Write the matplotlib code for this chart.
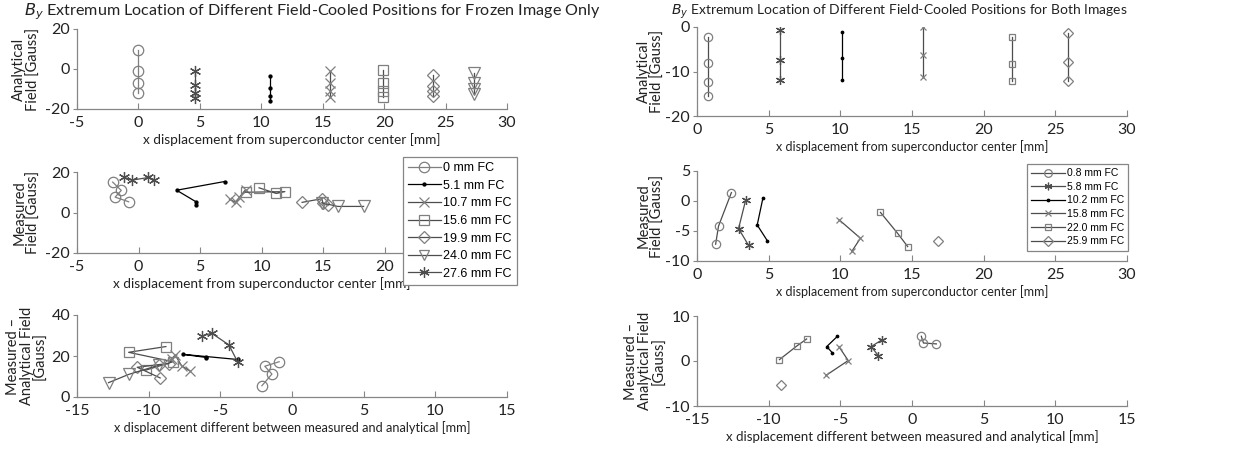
import matplotlib
matplotlib.use("Agg")
import matplotlib.pyplot as plt
from matplotlib.lines import Line2D

W, H = 1239, 453
FONT = ["Lato", "DejaVu Sans"]
LEGFONT = ["Liberation Sans", "DejaVu Sans"]

# ---------------- Left panel: Frozen image only ----------------
left_labels = ["0 mm FC", "5.1 mm FC", "10.7 mm FC", "15.6 mm FC",
               "19.9 mm FC", "24.0 mm FC", "27.6 mm FC"]
left_top_x = [0.0, 10.7, 15.6, 19.9, 24.0, 27.3, 4.6]
left_top_y = [
    [9.3, -0.8, -7.0, -12.0],
    [-3.3, -9.5, -13.3, -15.8],
    [-0.8, -7.0, -11.0, -14.0],
    [-0.3, -7.0, -11.0, -14.0],
    [-3.0, -8.5, -11.0, -13.5],
    [-2.0, -7.0, -10.0, -12.3],
    [-1.0, -7.8, -12.0, -14.5],
]
left_mid_x = [
    [-2.1, -1.4, -1.9, -0.8],
    [7.0, 3.1, 4.7, 4.7],
    [7.4, 7.9, 8.2, 8.7],
    [9.8, 11.2, 11.9, 8.7],
    [13.3, 14.9, 15.0, 15.4],
    [14.9, 16.2, 18.3],
    [-1.2, -0.5, 0.8, 1.3],
]
left_mid_y = [
    [15.0, 10.9, 7.6, 5.3],
    [15.3, 11.0, 5.2, 3.7],
    [6.5, 5.0, 7.5, 11.2],
    [12.2, 9.4, 10.3, 10.0],
    [5.0, 6.8, 4.5, 3.5],
    [4.8, 3.0, 3.0],
    [17.3, 16.0, 17.3, 16.2],
]
left_bot_x = [
    [-2.1, -1.4, -1.9, -0.9],
    [-3.8, -7.6, -6.0, -6.0],
    [-8.4, -8.15, -7.7, -7.1],
    [-8.8, -11.4, -8.3, -10.2],
    [-8.6, -9.3, -10.8, -9.2],
    [-12.8, -11.4, -9.3],
    [-6.3, -5.6, -4.4, -3.8],
]
left_bot_y = [
    [5.5, 11.2, 15.0, 17.2],
    [18.3, 20.8, 19.3, 19.0],
    [18.5, 20.5, 15.2, 12.6],
    [24.6, 21.8, 17.2, 13.1],
    [16.3, 15.8, 14.5, 9.3],
    [7.0, 11.0, 15.5],
    [29.8, 31.1, 25.4, 17.2],
]

# ---------------- Right panel: Both images ----------------
right_labels = ["0.8 mm FC", "5.8 mm FC", "10.2 mm FC", "15.8 mm FC",
                "22.0 mm FC", "25.9 mm FC"]
right_top_x = [0.8, 5.8, 10.1, 15.8, 22.0, 25.9]
right_top_y = [
    [-2.2, -8.0, -12.4, -15.6],
    [-0.7, -7.5, -12.0],
    [-1.1, -7.0, -11.8],
    [0.1, -6.2, -11.2],
    [-2.2, -8.4, -12.2],
    [-1.3, -7.8, -12.2],
]
right_mid_x = [
    [2.4, 1.5, 1.3],
    [3.4, 2.9, 3.6],
    [4.6, 4.2, 4.9],
    [9.9, 11.4, 10.8],
    [12.8, 14.0, 14.7],
    [16.8],
]
right_mid_y = [
    [1.4, -4.2, -7.2],
    [0.2, -4.6, -7.4],
    [0.5, -4.0, -6.6],
    [-3.1, -6.2, -8.4],
    [-1.9, -5.4, -7.6],
    [-6.6],
]
right_bot_x = [
    [0.65, 0.8, 1.7],
    [-2.1, -2.85, -2.35],
    [-5.2, -5.95, -5.55],
    [-5.1, -4.45, -6.0],
    [-9.25, -8.05, -7.35],
    [-9.15],
]
right_bot_y = [
    [5.5, 4.0, 3.8],
    [4.7, 3.2, 1.2],
    [5.5, 3.2, 1.8],
    [3.2, 0.1, -3.2],
    [0.3, 3.3, 4.9],
    [-5.3],
]

ASTER = (6, 2, 0)
GRAY = "#7f7f7f"
LINE = "#4d4d4d"

left_styles = [
    dict(marker="o", mec=GRAY, color=GRAY, ms=7.5),
    dict(marker="o", mec="black", mfc="black", color="black", ms=2.2),
    dict(marker="x", mec=GRAY, color=LINE, ms=6.5),
    dict(marker="s", mec=GRAY, color=LINE, ms=7),
    dict(marker="D", mec=GRAY, color=LINE, ms=6.5),
    dict(marker="v", mec=GRAY, color=LINE, ms=8),
    dict(marker=ASTER, mec=LINE, color=LINE, ms=8),
]
right_styles = [
    dict(marker="o", mec=GRAY, color=LINE, ms=6),
    dict(marker=ASTER, mec=LINE, color=LINE, ms=6.5),
    dict(marker="o", mec="black", mfc="black", color="black", ms=1.8),
    dict(marker="x", mec=GRAY, color=LINE, ms=5),
    dict(marker="s", mec=GRAY, color=LINE, ms=5),
    dict(marker="D", mec=GRAY, color=LINE, ms=5),
]

fig = plt.figure(figsize=(W / 100, H / 100), dpi=100)


def add_ax(x0, y0, x1, y1):
    return fig.add_axes([x0 / W, 1 - y1 / H, (x1 - x0) / W, (y1 - y0) / H])


def style_ax(ax, xlim, ylim, xticks, yticks, xlabel, ylabel, ylab_x,
             xl_size, hide_last_xtick=False):
    ax.set_xlim(*xlim)
    ax.set_ylim(*ylim)
    ax.set_xticks(xticks)
    ax.set_yticks(yticks)
    xt = [f"{t:g}" for t in xticks]
    if hide_last_xtick:
        xt[-1] = ""
    ax.set_xticklabels(xt)
    ax.set_yticklabels([f"{t:g}" for t in yticks])
    for s in ("top", "right"):
        ax.spines[s].set_visible(False)
    for s in ("left", "bottom"):
        ax.spines[s].set_color("#868686")
        ax.spines[s].set_linewidth(0.9)
    ax.tick_params(axis="x", direction="in", length=4, color="#868686",
                   labelsize=11.5, labelcolor="#222222", pad=5)
    ax.tick_params(axis="y", direction="out", length=3, color="#868686",
                   labelsize=11.5, labelcolor="#222222", pad=2)
    for lab in ax.get_xticklabels() + ax.get_yticklabels():
        lab.set_family(FONT)
    ax.set_xlabel(xlabel, family=FONT, fontsize=xl_size, labelpad=2,
                  color="#222222")
    ax.set_ylabel(ylabel, family=FONT, fontsize=10.5, color="#222222",
                  linespacing=1.0)
    ax.yaxis.set_label_coords(ylab_x, 0.5)
    ax.patch.set_alpha(0)


def plot_series(ax, xs, ys, st, scalar_x=False):
    for i, s in enumerate(st):
        x = xs[i]
        y = ys[i]
        if scalar_x:
            x = [x] * len(y)
        ax.plot(x, y, marker=s["marker"], ms=s["ms"], mec=s["mec"],
                mfc=s.get("mfc", "none"), color=s["color"], lw=0.9, mew=0.9)


XL1 = "x displacement from superconductor center [mm]"
XL2 = "x displacement different between measured and analytical [mm]"

# Left top
ax = add_ax(77, 29, 507, 109)
plot_series(ax, left_top_x, left_top_y, left_styles, scalar_x=True)
style_ax(ax, (-5, 30), (-20, 20), [-5, 0, 5, 10, 15, 20, 25, 30], [-20, 0, 20],
         XL1, "Analytical\nField [Gauss]", -0.085, 9.8)

# Left middle
ax = add_ax(77, 172, 446, 253)
plot_series(ax, left_mid_x, left_mid_y, left_styles)
style_ax(ax, (-5, 25), (-20, 20), [-5, 0, 5, 10, 15, 20, 25], [-20, 0, 20],
         XL1, "Measured\nField [Gauss]", -0.099, 9.8, hide_last_xtick=True)

# Left bottom
ax = add_ax(77, 315, 507, 397)
plot_series(ax, left_bot_x, left_bot_y, left_styles)
style_ax(ax, (-15, 15), (0, 40), [-15, -10, -5, 0, 5, 10, 15], [0, 20, 40],
         XL2, "Measured \u2013\nAnalytical Field\n[Gauss]", -0.068, 9.2)

handles = [Line2D([], [], marker=s["marker"], ms=min(s["ms"], 7.5), mec=s["mec"],
                  mfc=s.get("mfc", "none"), color=s["color"], lw=0.9, mew=0.9)
           for s in left_styles]
leg = fig.legend(handles, left_labels, loc="upper left",
                 bbox_to_anchor=(403 / W, 1 - 157 / H), frameon=True,
                 fancybox=False, edgecolor="#868686", framealpha=1,
                 prop=dict(family=LEGFONT, size=9), handlelength=2.6,
                 handletextpad=0.2, labelspacing=0.45, borderpad=0.4,
                 borderaxespad=0)
leg.get_frame().set_linewidth(0.9)

# Right top
ax = add_ax(697, 27, 1127, 116)
plot_series(ax, right_top_x, right_top_y, right_styles, scalar_x=True)
style_ax(ax, (0, 30), (-20, 0), [0, 5, 10, 15, 20, 25, 30], [-20, -10, 0],
         XL1, "Analytical\nField [Gauss]", -0.075, 9.0)

# Right middle
ax = add_ax(697, 171, 1127, 261)
plot_series(ax, right_mid_x, right_mid_y, right_styles)
style_ax(ax, (0, 30), (-10, 5), [0, 5, 10, 15, 20, 25, 30], [-10, -5, 0, 5],
         XL1, "Measured\nField [Gauss]", -0.075, 9.0)

# Right bottom
ax = add_ax(697, 316, 1127, 406)
plot_series(ax, right_bot_x, right_bot_y, right_styles)
style_ax(ax, (-15, 15), (-10, 10), [-15, -10, -5, 0, 5, 10, 15], [-10, 0, 10],
         XL2, "Measured \u2013\nAnalytical Field\n[Gauss]", -0.072, 9.5)

handles = [Line2D([], [], marker=s["marker"], ms=min(s["ms"], 5.5), mec=s["mec"],
                  mfc=s.get("mfc", "none"), color=s["color"], lw=0.9, mew=0.9)
           for s in right_styles]
leg = fig.legend(handles, right_labels, loc="upper left",
                 bbox_to_anchor=(1027 / W, 1 - 164 / H), frameon=True,
                 fancybox=False, edgecolor="#868686", framealpha=1,
                 prop=dict(family=LEGFONT, size=7.5), handlelength=3.2,
                 handletextpad=0.2, labelspacing=0.35, borderpad=0.4,
                 borderaxespad=0)
leg.get_frame().set_linewidth(0.9)

# Titles
fig.text(312 / W, 1 - 12 / H,
         r"$B_y$ Extremum Location of Different Field-Cooled Positions for Frozen Image Only",
         ha="center", va="center", family=FONT, fontsize=11.65, color="#222222")
fig.text(899 / W, 1 - 12 / H,
         r"$B_y$ Extremum Location of Different Field-Cooled Positions for Both Images",
         ha="center", va="center", family=FONT, fontsize=10.0, color="#222222")

fig.savefig("out.png", dpi=100)
